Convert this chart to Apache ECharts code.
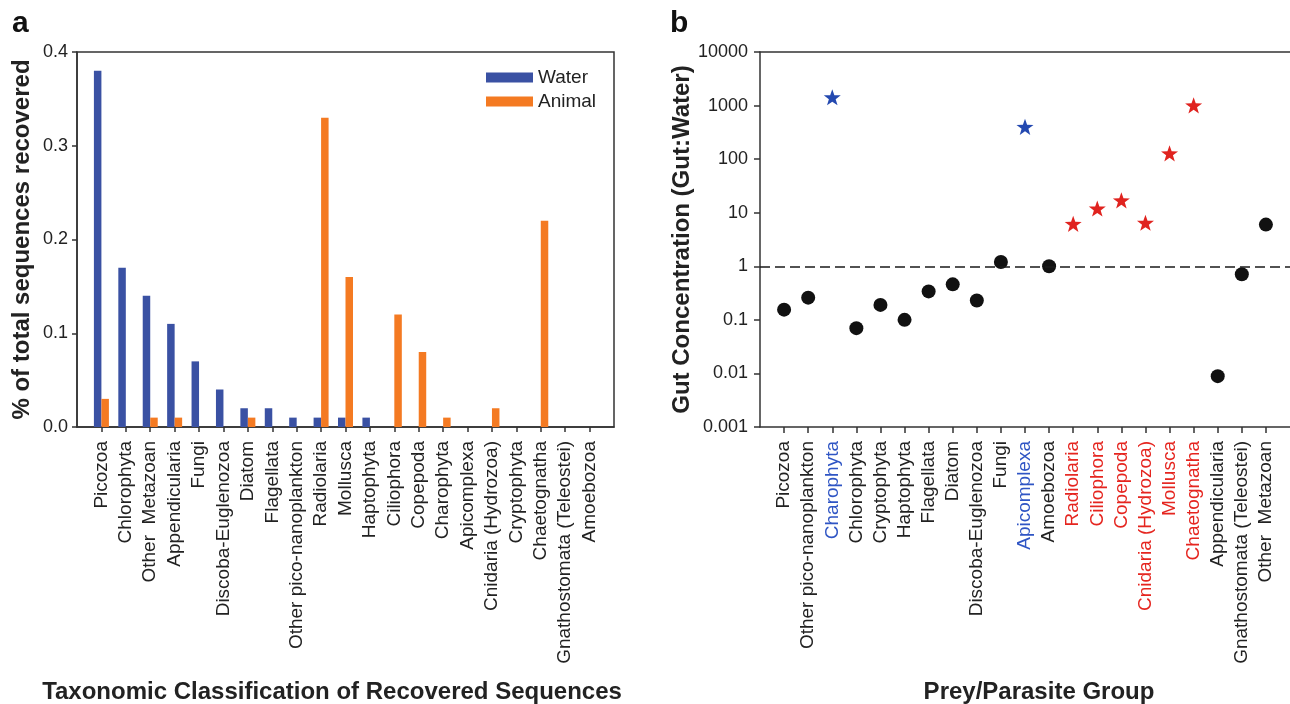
<!DOCTYPE html>
<html lang="en">
<head>
    <meta charset="UTF-8">
    <title>Gut contents vs water</title>
    <script src="https://cdn.jsdelivr.net/npm/echarts@6/dist/echarts.min.js"></script>
    <style>
        html, body { margin: 0; padding: 0; background: #fff; }
    </style>
</head>
<body>
<div id="main" style="width: 1290px;height:704px;"></div>

<script type="text/javascript">
    // panel a data
    var taxa = ['Picozoa', 'Chlorophyta', 'Other  Metazoan', 'Appendicularia', 'Fungi', 'Discoba-Euglenozoa',
        'Diatom', 'Flagellata', 'Other pico-nanoplankton', 'Radiolaria', 'Mollusca', 'Haptophyta',
        'Ciliophora', 'Copepoda', 'Charophyta', 'Apicomplexa', 'Cnidaria (Hydrozoa)', 'Cryptophyta',
        'Chaetognatha', 'Gnathostomata (Teleostei)', 'Amoebozoa'];
    var waterPct = [0.38, 0.17, 0.14, 0.11, 0.07, 0.04, 0.02, 0.02, 0.01, 0.01, 0.01, 0.01,
        0, 0, 0, 0, 0, 0, 0, 0, 0];
    var animalPct = [0.03, 0, 0.01, 0.01, 0, 0, 0.01, 0, 0, 0.33, 0.16, 0,
        0.12, 0.08, 0.01, 0, 0.02, 0, 0.22, 0, 0];

    // panel b data
    var preyGroups = ['Picozoa', 'Other pico-nanoplankton', 'Charophyta', 'Chlorophyta', 'Cryptophyta',
        'Haptophyta', 'Flagellata', 'Diatom', 'Discoba-Euglenozoa', 'Fungi', 'Apicomplexa', 'Amoebozoa',
        'Radiolaria', 'Ciliophora', 'Copepoda', 'Cnidaria (Hydrozoa)', 'Mollusca', 'Chaetognatha',
        'Appendicularia', 'Gnathostomata (Teleostei)', 'Other  Metazoan'];
    var gutRatio = [0.155, 0.26, 1430, 0.07, 0.19, 0.1, 0.34, 0.46, 0.23, 1.2, 400, 1.0,
        6.2, 12, 17, 6.5, 128, 1010, 0.0089, 0.71, 6.0];
    var groupType = ['plain', 'plain', 'blue', 'plain', 'plain', 'plain', 'plain', 'plain', 'plain', 'plain',
        'blue', 'plain', 'red', 'red', 'red', 'red', 'red', 'red', 'plain', 'plain', 'plain'];
    var logTickLabels = ['0.001', '0.01', '0.1', '1', '10', '100', '1000', '10000'];

    var FONT = '"Liberation Sans", Arial, sans-serif';
    var AXIS_COLOR = '#333';
    var labelColors = {plain: '#222', blue: '#2f55c4', red: '#e5251f'};
    var markerColors = {plain: '#111', blue: '#2449b0', red: '#e0231f'};
    var STAR = 'path://M0,-10L2.35,-3.24L9.51,-3.09L3.8,1.24L5.88,8.09L0,4L-5.88,8.09L-3.8,1.24L-9.51,-3.09L-2.35,-3.24Z';

    // one empty slot at each end so ticks sit one step in from the frame
    function pad(arr, fill) {
        return [fill].concat(arr, [fill]);
    }
    function pickType(type) {
        return pad(gutRatio.map(function (v, i) {
            return groupType[i] === type ? v : '-';
        }), '-');
    }

    var myChart = echarts.init(document.getElementById('main'));

    var catAxisCommon = {
        type: 'category',
        boundaryGap: false,
        axisLine: {lineStyle: {color: AXIS_COLOR, width: 1.5}},
        axisTick: {
            length: 5,
            lineStyle: {color: AXIS_COLOR, width: 1.5},
            interval: function (i, v) { return v !== ''; }
        },
        axisLabel: {
            rotate: 90, interval: 0, margin: 14,
            fontFamily: FONT, fontSize: 19, color: '#222'
        }
    };

    option = {
        animation: false,
        title: [
            {text: 'a', left: 7, top: 4, textStyle: {fontFamily: FONT, fontSize: 30, fontWeight: 'bold', color: '#111'}},
            {text: 'b', left: 665, top: 4, textStyle: {fontFamily: FONT, fontSize: 30, fontWeight: 'bold', color: '#111'}},
            {text: 'Taxonomic Classification of Recovered Sequences', left: 327, top: 675, textAlign: 'center',
                textStyle: {fontFamily: FONT, fontSize: 24, fontWeight: 'bold', color: '#222'}},
            {text: 'Prey/Parasite Group', left: 1034, top: 675, textAlign: 'center',
                textStyle: {fontFamily: FONT, fontSize: 24, fontWeight: 'bold', color: '#222'}}
        ],
        legend: {
            orient: 'vertical',
            left: 481,
            top: 63,
            itemWidth: 47,
            itemHeight: 10,
            itemGap: 5,
            icon: 'rect',
            textStyle: {fontFamily: FONT, fontSize: 19, color: '#222'},
            data: ['Water', 'Animal']
        },
        grid: [
            {left: 77, top: 52, width: 537, height: 375, show: true, borderColor: AXIS_COLOR, borderWidth: 1.5},
            {left: 760, top: 52, width: 537, height: 375}
        ],
        xAxis: [
            Object.assign({}, catAxisCommon, {gridIndex: 0, data: pad(taxa, '')}),
            Object.assign({}, catAxisCommon, {
                gridIndex: 1,
                data: pad(preyGroups, ''),
                axisTick: Object.assign({}, catAxisCommon.axisTick, {length: 6}),
                axisLabel: Object.assign({}, catAxisCommon.axisLabel, {
                    color: function (value) {
                        var i = preyGroups.indexOf(value);
                        return i < 0 ? '#222' : labelColors[groupType[i]];
                    }
                })
            }),
            // top frame line of panel b (its right edge runs off the page)
            {
                type: 'category', gridIndex: 1, position: 'top', boundaryGap: false,
                data: pad(preyGroups, ''),
                axisLine: {lineStyle: {color: AXIS_COLOR, width: 1.5}},
                axisTick: {show: false},
                axisLabel: {show: false}
            }
        ],
        yAxis: [
            {
                gridIndex: 0,
                type: 'value',
                min: 0, max: 0.4, interval: 0.1,
                name: '% of total sequences recovered',
                nameLocation: 'middle',
                nameGap: 43,
                nameTextStyle: {fontFamily: FONT, fontSize: 24, fontWeight: 'bold', color: '#222'},
                axisLine: {show: true, lineStyle: {color: AXIS_COLOR, width: 1.5}},
                axisTick: {show: true, length: 5, lineStyle: {color: AXIS_COLOR, width: 1.5}},
                axisLabel: {
                    margin: 9, fontFamily: FONT, fontSize: 18, color: '#222',
                    formatter: function (v) { return v.toFixed(1); }
                },
                splitLine: {show: false}
            },
            {
                gridIndex: 1,
                type: 'log',
                logBase: 10,
                min: 0.001, max: 10000,
                name: 'Gut Concentration (Gut:Water)',
                nameLocation: 'middle',
                nameGap: 66,
                nameTextStyle: {fontFamily: FONT, fontSize: 24, fontWeight: 'bold', color: '#222'},
                axisLine: {show: true, lineStyle: {color: AXIS_COLOR, width: 1.5}},
                axisTick: {show: true, length: 6, lineStyle: {color: AXIS_COLOR, width: 1.5}},
                axisLabel: {
                    margin: 12, fontFamily: FONT, fontSize: 18, color: '#222',
                    formatter: function (v) {
                        return logTickLabels[Math.round(Math.log10(v)) + 3];
                    }
                },
                splitLine: {show: false},
                minorTick: {show: false}
            }
        ],
        series: [
            {
                name: 'Water', type: 'bar', xAxisIndex: 0, yAxisIndex: 0,
                barWidth: 7.5, barGap: '0%',
                itemStyle: {color: '#3a51a3'},
                data: pad(waterPct, '-')
            },
            {
                name: 'Animal', type: 'bar', xAxisIndex: 0, yAxisIndex: 0,
                barWidth: 7.5, barGap: '0%',
                itemStyle: {color: '#f47a22'},
                data: pad(animalPct, '-')
            },
            {
                name: 'ratio', type: 'scatter', xAxisIndex: 1, yAxisIndex: 1,
                symbol: 'circle', symbolSize: 14,
                itemStyle: {color: markerColors.plain, opacity: 1},
                data: pickType('plain'),
                markLine: {
                    silent: true,
                    symbol: ['none', 'none'],
                    label: {show: false},
                    lineStyle: {color: '#1a1a1a', width: 1.5, type: [10, 5]},
                    data: [{yAxis: 1}]
                }
            },
            {
                name: 'prey', type: 'scatter', xAxisIndex: 1, yAxisIndex: 1,
                symbol: STAR, symbolSize: 17, symbolKeepAspect: true,
                itemStyle: {color: markerColors.blue, opacity: 1},
                data: pickType('blue')
            },
            {
                name: 'parasite', type: 'scatter', xAxisIndex: 1, yAxisIndex: 1,
                symbol: STAR, symbolSize: 17, symbolKeepAspect: true,
                itemStyle: {color: markerColors.red, opacity: 1},
                data: pickType('red')
            }
        ]
    };

    myChart.setOption(option);
</script>
</body>
</html>
